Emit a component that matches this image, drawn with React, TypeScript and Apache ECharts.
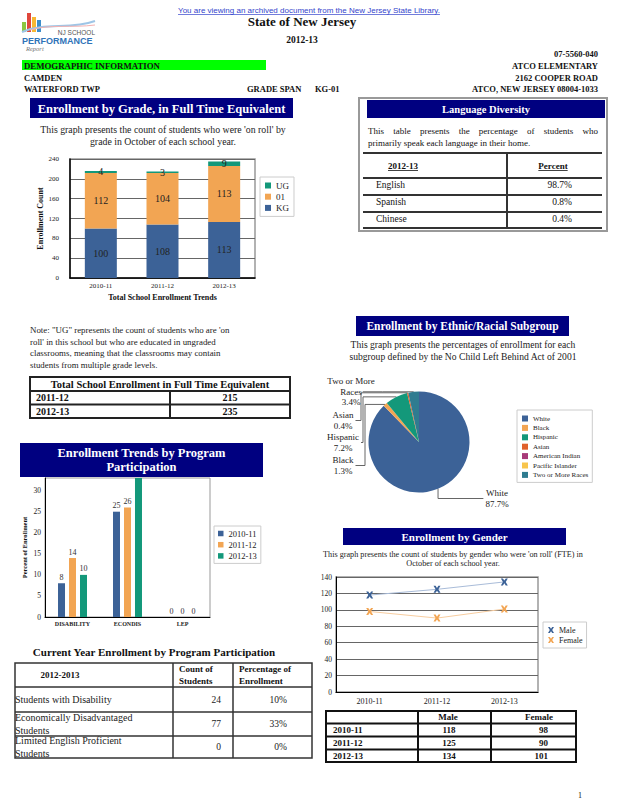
import React, { useEffect, useRef } from 'react';
import * as echarts from 'echarts';

// ---------- data ----------
const gradeYears = ['2010-11', '2011-12', '2012-13'];
const kgCounts = [100, 108, 113];
const grade01Counts = [112, 104, 113];
const ugCounts = [4, 3, 9];

const languages = ['English', 'Spanish', 'Chinese'];
const languagePercents = ['98.7%', '0.8%', '0.4%'];

const totalYears = ['2011-12', '2012-13'];
const totalEnrollment = [215, 235];

const programCategories = ['DISABILITY', 'ECONDIS', 'LEP'];
const programYears = ['2010-11', '2011-12', '2012-13'];
const program2010 = [8, 25, 0];
const program2011 = [14, 26, 0];
const program2012 = [10, 33, 0];
const programAxisMax = 33;

const programRows = ['Students with Disability', 'Economically Disadvantaged\nStudents', 'Limited English Proficient\nStudents'];
const programCounts = [24, 77, 0];
const programPercents = ['10%', '33%', '0%'];

const ethnicGroups = ['White', 'Black', 'Hispanic', 'Asian', 'American Indian', 'Pacific Islander', 'Two or More Races'];
const ethnicPercents = [87.7, 1.3, 7.2, 0.4, 0, 0, 3.4];

const genderYears = ['2010-11', '2011-12', '2012-13'];
const maleCounts = [118, 125, 134];
const femaleCounts = [98, 90, 101];

// ---------- styles ----------
const SERIF = '"Liberation Serif", "Times New Roman", serif';
const SANS = '"Liberation Sans", Arial, sans-serif';
const NAVY = '#000080';
const BLUE = '#3c6297';
const ORANGE = '#f2a553';
const GREEN = '#13987a';
const ethnicColors = ['#3c6297', '#f2a553', '#13987a', '#e0612c', '#a83a78', '#f8c54c', '#2f7c90'];
const X_ICON = 'path://M0,0L3,0L5,3L7,0L10,0L7,5L10,10L7,10L5,7L3,10L0,10L3,5Z';

// pie label anchor spots (center x, top y) by data index, and leader columns
const pieLabelSpots: Record<number, [number, number]> = {
  6: [351, 376],
  3: [343, 410],
  2: [343, 432],
  1: [343, 455],
  0: [497, 488],
};
const pieLeaderColumns: Record<number, number> = { 3: 361, 2: 363, 1: 365 };
const PIE_LABEL_FONT = `9px ${SERIF}`;

let measureCtx: CanvasRenderingContext2D | null = null;
function textWidth(s: string, font: string): number {
  if (!measureCtx) measureCtx = document.createElement('canvas').getContext('2d');
  if (!measureCtx) return s.length * 4;
  measureCtx.font = font;
  return measureCtx.measureText(s).width;
}

const fontOf = (size: number, bold = false, fam = SERIF, italic = false) =>
  `${italic ? 'italic ' : ''}${bold ? 'bold ' : ''}${size}px ${fam}`;

function buildGraphics(): any[] {
  const g: any[] = [];
  const T = (x: number, y: number, text: string, size: number, o: any = {}) => {
    g.push({
      type: 'text', x, y, z: 50, silent: true,
      style: {
        text,
        font: fontOf(size, o.bold, o.fam || SERIF, o.italic),
        fill: o.color || '#111',
        textAlign: o.align || 'left',
        textVerticalAlign: 'middle',
        lineHeight: o.lh,
      },
    });
  };
  const L = (x1: number, y1: number, x2: number, y2: number, w = 1, c = '#222') => {
    g.push({ type: 'line', z: 50, silent: true, shape: { x1, y1, x2, y2 }, style: { stroke: c, lineWidth: w } });
  };
  const R = (x: number, y: number, w: number, h: number, style: any, z = 40) => {
    g.push({ type: 'rect', z, silent: true, shape: { x, y, width: w, height: h }, style });
  };
  const underline = (cx: number, y: number, text: string, size: number, bold: boolean, c = '#111') => {
    const w = textWidth(text, fontOf(size, bold));
    L(cx - w / 2, y, cx + w / 2, y, 0.8, c);
  };
  const justify = (x1: number, x2: number, y: number, text: string, size: number) => {
    const words = text.split(' ');
    const f = fontOf(size);
    const widths = words.map((w) => textWidth(w, f));
    const total = widths.reduce((a, b) => a + b, 0);
    const gap = (x2 - x1 - total) / (words.length - 1);
    let x = x1;
    words.forEach((w, i) => {
      T(x, y, w, size);
      x += widths[i] + gap;
    });
  };

  // ---- header ----
  const link = 'You are viewing an archived document from the New Jersey State Library.';
  T(309, 10, link, 8, { fam: SANS, color: '#3344cc', align: 'center' });
  const lw = textWidth(link, fontOf(8, false, SANS));
  L(309 - lw / 2, 14.5, 309 + lw / 2, 14.5, 0.7, '#3344cc');

  // logo
  R(22, 22, 4, 10, { fill: '#8cc63f' });
  R(27, 13, 4, 19, { fill: '#e0473b' });
  R(32, 17, 4, 15, { fill: '#f7b733' });
  R(37, 20, 4, 12, { fill: '#3c8dcb' });
  g.push({ type: 'bezierCurve', z: 45, silent: true, shape: { x1: 22, y1: 32, cpx1: 45, cpy1: 22, cpx2: 70, cpy2: 30, x2: 95, y2: 21 }, style: { stroke: '#9ec5e6', lineWidth: 2, fill: 'none' } });
  g.push({ type: 'bezierCurve', z: 45, silent: true, shape: { x1: 30, y1: 30, cpx1: 50, cpy1: 24, cpx2: 72, cpy2: 28, x2: 95, y2: 25 }, style: { stroke: '#f3b1b1', lineWidth: 1, fill: 'none' } });
  T(95, 32, 'NJ SCHOOL', 6.5, { fam: SANS, color: '#555', align: 'right' });
  T(22, 40.5, 'PERFORMANCE', 9, { fam: SANS, bold: true, color: '#2f73b8' });
  T(26, 48.5, 'Report', 6.5, { italic: true, color: '#777' });

  T(302, 21, 'State of New Jersey', 13, { bold: true, align: 'center' });
  T(302, 40, '2012-13', 9.5, { bold: true, align: 'center' });
  T(598, 54, '07-5560-040', 8.5, { bold: true, align: 'right' });
  R(22, 60, 244, 10, { fill: '#00ff00' });
  T(24, 65.5, 'DEMOGRAPHIC INFORMATION', 8.8, { bold: true });
  T(598, 65.5, 'ATCO ELEMENTARY', 8.5, { bold: true, align: 'right' });
  T(24, 77.5, 'CAMDEN', 8.5, { bold: true });
  T(598, 77.5, '2162 COOPER ROAD', 8.5, { bold: true, align: 'right' });
  T(24, 89, 'WATERFORD TWP', 8.5, { bold: true });
  T(247, 89, 'GRADE SPAN', 8.5, { bold: true });
  T(315, 89, 'KG-01', 8.5, { bold: true });
  T(598, 89, 'ATCO, NEW JERSEY 08004-1033', 8.5, { bold: true, align: 'right' });

  // ---- enrollment by grade ----
  R(30, 98, 263, 20, { fill: NAVY });
  T(161.5, 108.5, 'Enrollment by Grade, in Full Time Equivalent', 12.5, { bold: true, color: '#fff', align: 'center' });
  T(163, 129, "This graph presents the count of students who were 'on roll' by", 9.8, { align: 'center', color: '#222' });
  T(163, 141, 'grade in October of each school year.', 9.8, { align: 'center', color: '#222' });

  // ---- language diversity ----
  R(359, 98, 248, 133, { fill: 'none', stroke: '#999', lineWidth: 2 });
  R(367, 100, 238, 18, { fill: NAVY });
  T(486, 109, 'Language Diversity', 10.5, { bold: true, color: '#fff', align: 'center' });
  justify(368, 598, 130.5, 'This table presents the percentage of students who', 9);
  T(368, 142.5, 'primarily speak each language in their home.', 9);
  L(363, 153, 602, 153, 2, '#333');
  L(507, 153, 507, 228, 2, '#333');
  [178, 195, 212, 228].forEach((y) => L(363, y, 602, y, 2, '#333'));
  T(403, 166, '2012-13', 9, { bold: true, align: 'center' });
  underline(403, 170.5, '2012-13', 9, true);
  T(553, 166, 'Percent', 9, { bold: true, align: 'center' });
  underline(553, 170.5, 'Percent', 9, true);
  languages.forEach((lang, i) => {
    const y = 185 + i * 16.8;
    T(376, y, lang, 9.5);
    T(572, y, languagePercents[i], 9.5, { align: 'right' });
  });

  // ---- note ----
  [
    'Note: "UG" represents the count of students who are \'on',
    "roll' in this school but who are educated in ungraded",
    'classrooms, meaning that the classrooms may contain',
    'students from multiple grade levels.',
  ].forEach((line, i) => T(30, 330 + i * 11.7, line, 8.9, { color: '#222' }));

  // ---- total enrollment table ----
  R(30, 377, 260, 41, { fill: 'none', stroke: '#222', lineWidth: 2 });
  L(30, 391, 290, 391, 2);
  L(30, 404.5, 290, 404.5, 2);
  L(170, 391, 170, 418, 2);
  T(160, 384, 'Total School Enrollment in Full Time Equivalent', 10.5, { bold: true, align: 'center' });
  totalYears.forEach((yr, i) => {
    const y = 397.7 + i * 13.5;
    T(36, y, yr, 10, { bold: true });
    T(230, y, String(totalEnrollment[i]), 10, { bold: true, align: 'center' });
  });

  // ---- program participation title ----
  R(20, 443, 243, 34, { fill: NAVY }, 60);
  g.push({
    type: 'text', x: 141.5, y: 460, z: 61, silent: true,
    style: { text: 'Enrollment Trends by Program\nParticipation', font: fontOf(12.5, true), fill: '#fff', textAlign: 'center', textVerticalAlign: 'middle', lineHeight: 14 },
  });

  // ---- current year table ----
  T(154, 652, 'Current Year Enrollment by Program Participation', 11, { bold: true, align: 'center' });
  R(15, 663, 297, 95, { fill: 'none', stroke: '#333', lineWidth: 1.5 });
  [687, 712, 736].forEach((y) => L(15, y, 312, y, 1.5, '#333'));
  L(173, 663, 173, 758, 1.5, '#333');
  L(233, 663, 233, 758, 1.5, '#333');
  T(60, 675, '2012-2013', 9, { bold: true, align: 'center' });
  T(179, 675, 'Count of\nStudents', 9, { bold: true, lh: 12.7 });
  T(239, 675, 'Percentage of\nEnrollment', 9, { bold: true, lh: 12.7 });
  const rowCenters = [699.5, 724, 747];
  programRows.forEach((row, i) => {
    const y = rowCenters[i];
    T(15, y, row, 10, { lh: 13, color: '#222' });
    T(221, y, String(programCounts[i]), 9.5, { align: 'right', color: '#222' });
    T(287, y, programPercents[i], 9.5, { align: 'right', color: '#222' });
  });

  // ---- ethnic ----
  R(356, 316, 213, 20, { fill: NAVY });
  T(462.5, 326, 'Enrollment by Ethnic/Racial Subgroup', 11.5, { bold: true, color: '#fff', align: 'center' });
  T(463, 344, 'This graph presents the percentages of enrollment for each', 9.6, { align: 'center', color: '#222' });
  T(463, 356, 'subgroup defined by the No Child Left Behind Act of 2001', 9.6, { align: 'center', color: '#222' });

  // ---- gender ----
  R(343, 528, 223, 17, { fill: NAVY });
  T(454.5, 536.5, 'Enrollment by Gender', 11, { bold: true, color: '#fff', align: 'center' });
  T(453, 554, "This graph presents the count of students by gender who were 'on roll' (FTE) in", 8.2, { align: 'center', color: '#222' });
  T(453, 563.5, 'October of each school year.', 8.2, { align: 'center', color: '#222' });

  R(326, 711, 250, 51, { fill: 'none', stroke: '#111', lineWidth: 2 });
  [723.5, 736.5, 749.5].forEach((y) => L(326, y, 576, y, 2, '#111'));
  L(418, 711, 418, 762, 2, '#111');
  L(491, 711, 491, 762, 2, '#111');
  T(448, 717, 'Male', 9, { bold: true, align: 'center' });
  T(539, 717, 'Female', 9, { bold: true, align: 'center' });
  genderYears.forEach((yr, i) => {
    const y = 730 + i * 13;
    T(333, y, yr, 9, { bold: true });
    T(449, y, String(maleCounts[i]), 9, { bold: true, align: 'center' });
    T(548, y, String(femaleCounts[i]), 9, { bold: true, align: 'right' });
  });

  T(578, 795, '1', 8);
  return g;
}

function pieLabelLayout(p: any) {
  const idx = p.dataIndex;
  const spot = pieLabelSpots[idx];
  if (!spot) return {};
  const res: any = { x: spot[0], y: spot[1], align: 'center', verticalAlign: 'top' };
  const anchor = p.labelLinePoints && p.labelLinePoints[0];
  if (!anchor) return res;
  const w = p.labelRect.width;
  const h = p.labelRect.height;
  const midY = spot[1] + h / 2;
  if (idx === 0) {
    res.labelLinePoints = [anchor, [anchor[0], midY], [spot[0] - w / 2 - 2, midY]];
  } else if (idx === 6) {
    const racesHalf = textWidth('Races', PIE_LABEL_FONT) / 2;
    res.labelLinePoints = [anchor, [(anchor[0] + spot[0]) / 2, anchor[1]], [spot[0] + racesHalf + 1, anchor[1]]];
  } else {
    const col = pieLeaderColumns[idx];
    res.labelLinePoints = [anchor, [col, anchor[1]], [col, midY], [spot[0] + w / 2 + 2, midY]];
  }
  return res;
}

function buildOption(): any {
  const axisLbl = (size: number, extra: any = {}) => ({ fontSize: size, color: '#222', fontFamily: SERIF, ...extra });
  return {
    animation: false,
    backgroundColor: '#fff',
    textStyle: { fontFamily: SERIF },
    grid: [
      { left: 70, top: 159, width: 185, height: 119, show: true, borderColor: '#999', borderWidth: 1.5 },
      { left: 45, top: 478, width: 165, height: 139, show: true, borderColor: '#999', borderWidth: 1 },
      { left: 336, top: 577, width: 202, height: 115, show: true, borderColor: '#999', borderWidth: 1.5 },
    ],
    xAxis: [
      {
        type: 'category', gridIndex: 0, data: gradeYears,
        axisLine: { lineStyle: { color: '#000', width: 1.5 } }, axisTick: { show: false },
        axisLabel: axisLbl(7, { margin: 4 }),
        name: 'Total School Enrollment Trends', nameLocation: 'middle', nameGap: 15,
        nameTextStyle: { fontSize: 8, fontWeight: 'bold', color: '#111', fontFamily: SERIF },
      },
      {
        type: 'category', gridIndex: 1, data: programCategories,
        axisLine: { lineStyle: { color: '#000' } }, axisTick: { show: false },
        axisLabel: axisLbl(6, { margin: 4, fontWeight: 'bold' }),
      },
      {
        type: 'category', gridIndex: 2, data: genderYears,
        axisLine: { lineStyle: { color: '#000' } }, axisTick: { show: false },
        axisLabel: axisLbl(8, { margin: 5 }),
      },
    ],
    yAxis: [
      {
        type: 'value', gridIndex: 0, min: 0, max: 240, interval: 40,
        axisLine: { show: true, lineStyle: { color: '#000', width: 1.5 } }, axisTick: { show: false },
        axisLabel: axisLbl(7, { margin: 11 }),
        splitLine: { lineStyle: { color: '#666' } },
        name: 'Enrollment Count', nameLocation: 'middle', nameGap: 18,
        nameTextStyle: { fontSize: 8, fontWeight: 'bold', color: '#111', fontFamily: SERIF },
      },
      {
        type: 'value', gridIndex: 1, min: 0, max: programAxisMax, interval: 5,
        axisLine: { show: true, lineStyle: { color: '#000' } }, axisTick: { show: false },
        axisLabel: axisLbl(7.5, { margin: 4, showMaxLabel: false }),
        splitLine: { show: false },
        name: 'Percent of Enrollment', nameLocation: 'middle', nameGap: 17,
        nameTextStyle: { fontSize: 6.5, fontWeight: 'bold', color: '#111', fontFamily: SERIF },
      },
      {
        type: 'value', gridIndex: 2, min: 0, max: 140, interval: 20,
        axisLine: { show: true, lineStyle: { color: '#000' } }, axisTick: { show: false },
        axisLabel: axisLbl(7.5, { margin: 4 }),
        splitLine: { lineStyle: { color: '#666' } },
      },
    ],
    legend: [
      {
        data: ['UG', '01', 'KG'], orient: 'vertical', left: 260, top: 177, padding: [4, 5, 4, 5],
        itemWidth: 6, itemHeight: 6, itemGap: 2.2, icon: 'rect', borderColor: '#ccc', borderWidth: 1,
        selectedMode: false, textStyle: { fontSize: 9, lineHeight: 9, color: '#222', fontFamily: SERIF },
      },
      {
        data: programYears, orient: 'vertical', left: 214, top: 526, padding: [3, 4, 3, 4],
        itemWidth: 5.5, itemHeight: 5.5, itemGap: 2.2, icon: 'rect', borderColor: '#ccc', borderWidth: 1,
        selectedMode: false, textStyle: { fontSize: 8.5, lineHeight: 8.5, color: '#222', fontFamily: SERIF },
      },
      {
        data: ethnicGroups, orient: 'vertical', left: 517, top: 410, padding: [5, 4, 4, 5],
        itemWidth: 6, itemHeight: 6, itemGap: 2.4, icon: 'rect', borderColor: '#ccc', borderWidth: 1,
        selectedMode: false, textStyle: { fontSize: 7, lineHeight: 6, color: '#222', fontFamily: SERIF },
      },
      {
        data: [{ name: 'Male', icon: X_ICON }, { name: 'Female', icon: X_ICON }], orient: 'vertical',
        left: 543, top: 622, padding: [4, 4, 4, 5], itemWidth: 6, itemHeight: 6, itemGap: 2,
        borderColor: '#ccc', borderWidth: 1, selectedMode: false,
        textStyle: { fontSize: 8, lineHeight: 8, color: '#222', fontFamily: SERIF },
      },
    ],
    series: [
      ...[
        { name: 'KG', data: kgCounts, color: BLUE },
        { name: '01', data: grade01Counts, color: ORANGE },
        { name: 'UG', data: ugCounts, color: GREEN },
      ].map((s) => ({
        type: 'bar', name: s.name, data: s.data, stack: 'grade', xAxisIndex: 0, yAxisIndex: 0,
        barWidth: 32, itemStyle: { color: s.color },
        label: { show: true, position: 'inside', fontSize: 10, color: '#222', fontFamily: SERIF },
      })),
      ...[
        { name: programYears[0], data: program2010, color: BLUE },
        { name: programYears[1], data: program2011, color: ORANGE },
        { name: programYears[2], data: program2012, color: GREEN },
      ].map((s) => ({
        type: 'bar', name: s.name, xAxisIndex: 1, yAxisIndex: 1,
        // a bar that reaches the top of the plot has its label cut off in the source
        data: s.data.map((v) => (v >= programAxisMax ? { value: v, label: { show: false } } : v)),
        barWidth: 7, barGap: '57%', itemStyle: { color: s.color },
        label: { show: true, position: 'top', distance: 2, fontSize: 8, color: '#333', fontFamily: SERIF },
      })),
      {
        type: 'pie', name: 'Ethnic', center: [419, 442], radius: 50.5, startAngle: 90, clockwise: true,
        color: ethnicColors,
        data: ethnicGroups.map((name, i) => ({
          name, value: ethnicPercents[i],
          label: { show: ethnicPercents[i] > 0 },
          labelLine: { show: ethnicPercents[i] > 0 },
        })),
        itemStyle: { borderWidth: 0 },
        label: {
          formatter: (p: any) => `${p.name === 'Two or More Races' ? 'Two or More\nRaces' : p.name}\n${p.value}%`,
          fontSize: 9, lineHeight: 10.5, color: '#222', fontFamily: SERIF,
        },
        labelLine: { length: 8, length2: 8, lineStyle: { color: '#666', width: 1 } },
        labelLayout: pieLabelLayout,
      },
      {
        type: 'line', name: 'Male', data: maleCounts, xAxisIndex: 2, yAxisIndex: 2,
        symbol: X_ICON, symbolSize: 7, itemStyle: { color: BLUE }, lineStyle: { color: '#a9bcd9', width: 1 },
      },
      {
        type: 'line', name: 'Female', data: femaleCounts, xAxisIndex: 2, yAxisIndex: 2,
        symbol: X_ICON, symbolSize: 7, itemStyle: { color: ORANGE }, lineStyle: { color: '#f7cda0', width: 1 },
      },
    ],
    graphic: { elements: buildGraphics() },
  };
}

export default function App() {
  const ref = useRef<HTMLDivElement>(null);
  useEffect(() => {
    if (!ref.current) return;
    const chart = echarts.init(ref.current, null, { renderer: 'svg' });
    chart.setOption(buildOption());
    return () => chart.dispose();
  }, []);
  return (
    <div
      ref={ref}
      style={{ position: 'absolute', left: 0, top: 0, width: 618, height: 800, background: '#fff' }}
    />
  );
}
